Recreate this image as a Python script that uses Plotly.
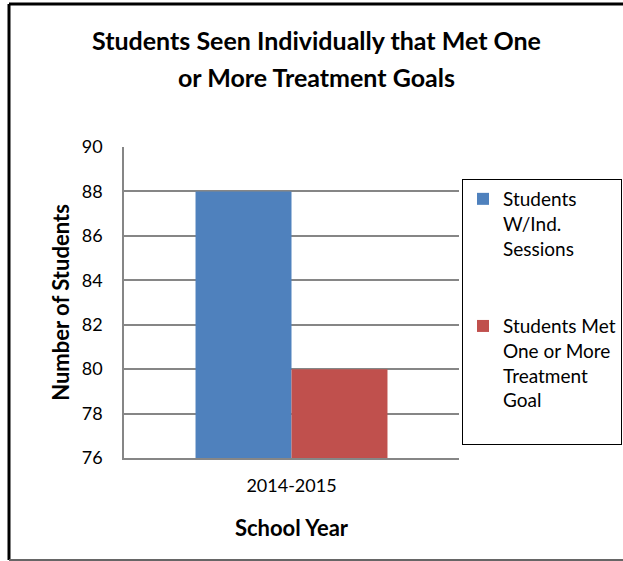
import plotly.graph_objects as go

categories = ["2014-2015"]
series_names = ["Students<br>W/Ind.<br>Sessions", "Students Met<br>One or More<br>Treatment<br>Goal<br> "]
series_values = [[88], [80]]
series_colors = ["#4F81BD", "#C0504D"]
y_ticks = [76, 78, 80, 82, 84, 86, 88, 90]
title_lines = ["Students Seen Individually that Met One", "or More Treatment Goals"]

FONT = "Lato, 'Open Sans', sans-serif"

fig = go.Figure()
for i, (name, vals, col) in enumerate(zip(series_names, series_values, series_colors)):
    fig.add_trace(go.Bar(x=categories, y=vals, name=name, marker_color=col,
                         marker_line_width=0, legendgroup=f"g{i}"))

W, H = 623, 561
L, R, T, B = 124, 164, 147, 103
pw, ph = W - L - R, H - T - B

def px_x(x):
    return (x - L) / pw

def px_y(y):
    return (H - B - y) / ph

title_ann = [dict(text=f"<b>{t}</b>", xref="paper", yref="paper",
                  x=px_x(316), y=px_y(yy), xanchor="center", yanchor="middle",
                  showarrow=False, font=dict(size=25, family=FONT))
             for t, yy in zip(title_lines, [40, 77])]

fig.update_layout(
    width=W, height=H,
    margin=dict(l=L, r=R, t=T, b=B, autoexpand=False),
    paper_bgcolor="white", plot_bgcolor="white",
    font=dict(family=FONT, size=18, color="#000000"),
    barmode="group", bargap=0.427, bargroupgap=0,
    showlegend=True,
    legend=dict(x=px_x(462), y=px_y(179), xanchor="left", yanchor="top",
                bordercolor="#000000", borderwidth=1, bgcolor="white",
                tracegroupgap=50, font=dict(size=19, family=FONT),
                traceorder="grouped", valign="top"),
    xaxis=dict(showline=True, linecolor="#868686", linewidth=1.5,
               ticks="", ticklabelstandoff=11,
               title=dict(text="<b>School Year</b>", font=dict(size=22), standoff=25)),
    yaxis=dict(range=[76, 90], tickvals=y_ticks, showgrid=True,
               gridcolor="#868686", gridwidth=1.5, showline=True,
               linecolor="#868686", linewidth=1.5, ticks="",
               ticklabelstandoff=16, zeroline=False,
               title=dict(text="<b>Number of Students</b>", font=dict(size=22), standoff=6)),
    annotations=title_ann,
    shapes=[
        dict(type="line", xref="paper", yref="paper", x0=px_x(9), x1=px_x(9),
             y0=px_y(4), y1=px_y(560), line=dict(color="#000000", width=3)),
        dict(type="line", xref="paper", yref="paper", x0=px_x(9), x1=px_x(640),
             y0=px_y(4), y1=px_y(4), line=dict(color="#000000", width=3)),
        dict(type="line", xref="paper", yref="paper", x0=px_x(9), x1=px_x(640),
             y0=px_y(560), y1=px_y(560), line=dict(color="#666666", width=2)),
    ],
)

fig.write_html("out.html")
